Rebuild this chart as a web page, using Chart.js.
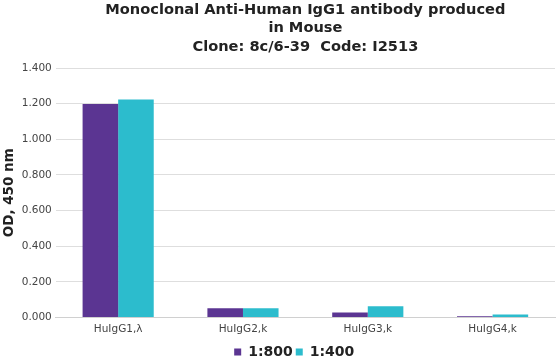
<!DOCTYPE html>
<html><head><meta charset="utf-8">
<script src="https://cdn.jsdelivr.net/npm/chart.js@4.4.1/dist/chart.umd.min.js"></script>
<style>html,body{margin:0;padding:0;background:#fff}#wrap{width:558px;height:360px}</style>
</head><body><div id="wrap"><canvas id="c" width="558" height="360"></canvas></div>
<script>
const categories = ["HuIgG1,\u03bb", "HuIgG2,k", "HuIgG3,k", "HuIgG4,k"];
const series800 = [1.199, 0.052, 0.027, 0.006];
const series400 = [1.224, 0.051, 0.062, 0.016];
const seriesNames = ["1:800", "1:400"];
const titleLines = ["Monoclonal Anti-Human IgG1 antibody produced", "in Mouse", "Clone: 8c/6-39  Code: I2513"];
const font = "'DejaVu Sans', Verdana, sans-serif";
const legendShift = {
  id: 'legendShift',
  afterLayout(chart) { chart.legend.left += 16; chart.legend.right += 16; }
};
new Chart(document.getElementById('c'), {
  type: 'bar',
  data: {
    labels: categories,
    datasets: [
      {label: seriesNames[0], data: series800, backgroundColor: '#5b3592'},
      {label: seriesNames[1], data: series400, backgroundColor: '#2cbccd'}
    ]
  },
  plugins: [legendShift],
  options: {
    responsive: false, animation: false,
    layout: {padding: {left: 1.5, right: 3, top: 0, bottom: -9}},
    datasets: {bar: {barPercentage: 1.0, categoryPercentage: 0.57}},
    plugins: {
      title: {display: true, fullSize: false, text: titleLines, color: '#222', font: {family: font, size: 14.6, weight: 'bold', lineHeight: 1.27}, padding: {top: 0.5, bottom: 12}},
      legend: {position: 'bottom', labels: {color: '#222', font: {family: font, size: 14, weight: 'bold'}, boxWidth: 7, boxHeight: 7, padding: 3}},
      tooltip: {enabled: false}
    },
    scales: {
      x: {grid: {display: false, drawTicks: false}, border: {color: '#d0d0d0'}, ticks: {padding: 6, color: '#444', font: {family: font, size: 10.5}}},
      y: {min: 0, max: 1.4, grid: {color: '#dedede', drawTicks: false}, border: {display: false},
          ticks: {stepSize: 0.2, padding: 4, color: '#444', font: {family: font, size: 10.5}, callback: v => v.toFixed(3)},
          title: {display: true, text: 'OD, 450 nm', color: '#222', font: {family: font, size: 13.5, weight: 'bold'}, padding: {top: 0, bottom: 0}}}
    }
  }
});
</script></body></html>
